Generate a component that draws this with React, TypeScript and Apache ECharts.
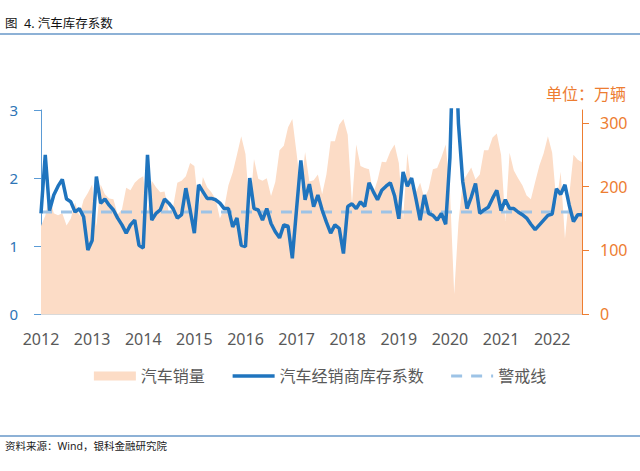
import React, { useEffect, useRef } from "react";
import * as echarts from "echarts";

// ---- Data ----
const years = [2012, 2013, 2014, 2015, 2016, 2017, 2018, 2019, 2020, 2021, 2022];

// 汽车销量 (万辆), monthly
const sales2012 = [138, 154, 184, 158, 155, 158, 139, 150, 175, 154, 179, 190];
const sales2013 = [203, 138, 203, 188, 181, 180, 156, 164, 198, 194, 206, 212];
const sales2014 = [216, 158, 209, 199, 191, 192, 160, 168, 206, 209, 216, 237];
const sales2015 = [232, 166, 215, 199, 191, 180, 150, 166, 202, 222, 250, 279];
const sales2016 = [251, 160, 243, 212, 209, 213, 185, 207, 257, 264, 293, 306];
const sales2017 = [252, 194, 254, 208, 210, 219, 188, 219, 271, 271, 297, 306];
const sales2018 = [281, 173, 266, 232, 229, 227, 189, 210, 239, 238, 255, 266];
const sales2019 = [237, 148, 252, 198, 191, 206, 181, 196, 227, 229, 246, 266];
const sales2020 = [194, 31, 143, 207, 219, 230, 211, 219, 257, 257, 277, 283];
const sales2021 = [250, 146, 253, 225, 213, 202, 186, 180, 207, 233, 252, 279];
const sales2022 = [253, 174, 223, 118, 186, 250, 242, 238];

// 汽车经销商库存系数, monthly
const coef2012 = [1.48, 2.34, 1.52, 1.75, 1.88, 1.98, 1.69, 1.65, 1.5, 1.55, 1.43, 0.94];
const coef2013 = [1.08, 2.02, 1.63, 1.69, 1.6, 1.53, 1.41, 1.31, 1.19, 1.31, 1.38, 1.01];
const coef2014 = [0.97, 2.34, 1.38, 1.48, 1.53, 1.69, 1.63, 1.55, 1.41, 1.46, 1.85, 1.53];
const coef2015 = [1.19, 1.9, 1.8, 1.7, 1.7, 1.68, 1.63, 1.55, 1.55, 1.28, 1.41, 1.01];
const coef2016 = [0.99, 2.0, 1.55, 1.53, 1.38, 1.55, 1.33, 1.21, 1.12, 1.31, 1.29, 0.82];
const coef2017 = [1.55, 2.26, 1.68, 1.91, 1.58, 1.75, 1.53, 1.35, 1.19, 1.31, 1.26, 0.89];
const coef2018 = [1.58, 1.62, 1.55, 1.65, 1.58, 1.93, 1.8, 1.68, 1.82, 1.88, 1.93, 1.74];
const coef2019 = [1.4, 2.09, 1.88, 2.0, 1.7, 1.38, 1.75, 1.48, 1.45, 1.38, 1.48, 1.32];
const coef2020 = [2.3, 4.5, 2.8, 1.95, 1.55, 1.72, 1.92, 1.48, 1.53, 1.57, 1.7, 1.82];
const coef2021 = [1.52, 1.68, 1.55, 1.55, 1.5, 1.46, 1.41, 1.32, 1.24, 1.31, 1.38, 1.45];
const coef2022 = [1.47, 1.84, 1.76, 1.9, 1.6, 1.36, 1.46, 1.46];

const warningLevel = 1.5;
const leftTicks = [0, 1, 2, 3];
const rightTicks = [0, 100, 200, 300];

const salesAll = [
  ...sales2012, ...sales2013, ...sales2014, ...sales2015, ...sales2016, ...sales2017,
  ...sales2018, ...sales2019, ...sales2020, ...sales2021, ...sales2022,
];
const coefAll = [
  ...coef2012, ...coef2013, ...coef2014, ...coef2015, ...coef2016, ...coef2017,
  ...coef2018, ...coef2019, ...coef2020, ...coef2021, ...coef2022,
];
const months: string[] = [];
years.forEach((y) => {
  for (let m = 1; m <= 12; m++) months.push(`${y}-${m < 10 ? "0" + m : m}`);
});
const categories = months.slice(0, coefAll.length);

const FONT = "'Noto Sans', 'Noto Sans CJK SC', sans-serif";
const BLUE_LINE = "#1F74BE";
const BLUE_AXIS = "#5B9BD5";
const BLUE_LABEL = "#2E75B6";
const ORANGE = "#ED7D31";
const PEACH = "#FCDCC6";
const DASH = "#9DC3E6";

const hiddenSymbol = { opacity: 0, color: "rgba(0,0,0,0)", borderColor: "rgba(0,0,0,0)", borderWidth: 0 };

export default function App() {
  const ref = useRef<HTMLDivElement>(null);
  useEffect(() => {
    if (!ref.current) return;
    const chart = echarts.init(ref.current, undefined, { renderer: "svg" });
    const option: any = {
      animation: false,
      textStyle: { fontFamily: FONT },
      grid: { left: 41, right: 58, top: 110, bottom: 157 },
      legend: {
        top: 363,
        left: "center",
        itemWidth: 42,
        itemHeight: 9,
        itemGap: 26,
        textStyle: { color: "#595959", fontSize: 16, fontFamily: FONT },
        data: [
          { name: "汽车销量", icon: "rect", itemStyle: { color: PEACH, borderWidth: 0 } },
          {
            name: "汽车经销商库存系数",
            lineStyle: { width: 3.5, color: BLUE_LINE },
            itemStyle: hiddenSymbol,
          },
          {
            name: "警戒线",
            lineStyle: { width: 3, color: DASH, type: [11, 9] },
            itemStyle: hiddenSymbol,
          },
        ],
      },
      xAxis: {
        type: "category",
        data: categories,
        boundaryGap: false,
        axisLine: { show: true, lineStyle: { color: "#D9D9D9", width: 1 } },
        axisTick: { show: false },
        splitLine: { show: false },
        axisLabel: {
          interval: (i: number) => i % 12 === 0,
          formatter: (v: string) => v.slice(0, 4),
          color: "#595959",
          fontSize: 16,
          margin: 17,
        },
      },
      yAxis: [
        {
          type: "value",
          min: 0,
          max: 3,
          interval: 1,
          position: "left",
          axisLine: { show: true, lineStyle: { color: BLUE_AXIS, width: 1 } },
          axisTick: { show: true, length: 7, customValues: leftTicks, lineStyle: { color: BLUE_AXIS } },
          axisLabel: { customValues: leftTicks, color: BLUE_LABEL, fontSize: 15, margin: 23 },
          splitLine: { show: false },
        },
        {
          type: "value",
          min: 0,
          max: 320,
          position: "right",
          axisLine: { show: true, lineStyle: { color: ORANGE, width: 1 } },
          axisTick: { show: true, length: 7, customValues: rightTicks, lineStyle: { color: ORANGE } },
          axisLabel: { customValues: rightTicks, color: ORANGE, fontSize: 16, margin: 18 },
          splitLine: { show: false },
        },
      ],
      series: [
        {
          name: "汽车销量",
          type: "line",
          yAxisIndex: 1,
          data: salesAll,
          symbol: "none",
          color: PEACH,
          lineStyle: { width: 0, color: PEACH },
          areaStyle: { color: PEACH, opacity: 1 },
          z: 1,
        },
        {
          name: "警戒线",
          type: "line",
          yAxisIndex: 0,
          data: categories.map(() => warningLevel),
          symbol: "none",
          color: DASH,
          lineStyle: { width: 3, color: DASH, type: [11, 9] },
          z: 2,
        },
        {
          name: "汽车经销商库存系数",
          type: "line",
          yAxisIndex: 0,
          data: coefAll,
          symbol: "none",
          color: BLUE_LINE,
          lineStyle: { width: 3.5, color: BLUE_LINE },
          z: 3,
        },
      ],
      graphic: [
        {
          type: "text",
          left: 5,
          top: 17,
          style: { text: "图  4. 汽车库存系数", fontSize: 12.5, fill: "#111", fontFamily: FONT },
        },
        { type: "rect", shape: { x: 0, y: 33, width: 640, height: 2 }, style: { fill: "#8DB1D6" } },
        { type: "rect", shape: { x: 0, y: 435, width: 640, height: 2 }, style: { fill: "#8DB1D6" } },
        {
          type: "text",
          left: 5,
          top: 441,
          style: { text: "资料来源：Wind，银科金融研究院", fontSize: 10.5, fill: "#222", fontFamily: FONT },
        },
        {
          type: "text",
          right: 14,
          top: 86,
          style: { text: "单位：万辆", fontSize: 16, fill: ORANGE, fontFamily: FONT },
        },
      ],
    };
    chart.setOption(option);
    return () => chart.dispose();
  }, []);
  return (
    <div
      ref={ref}
      style={{ position: "absolute", left: 0, top: 0, width: 640, height: 471 }}
    />
  );
}
